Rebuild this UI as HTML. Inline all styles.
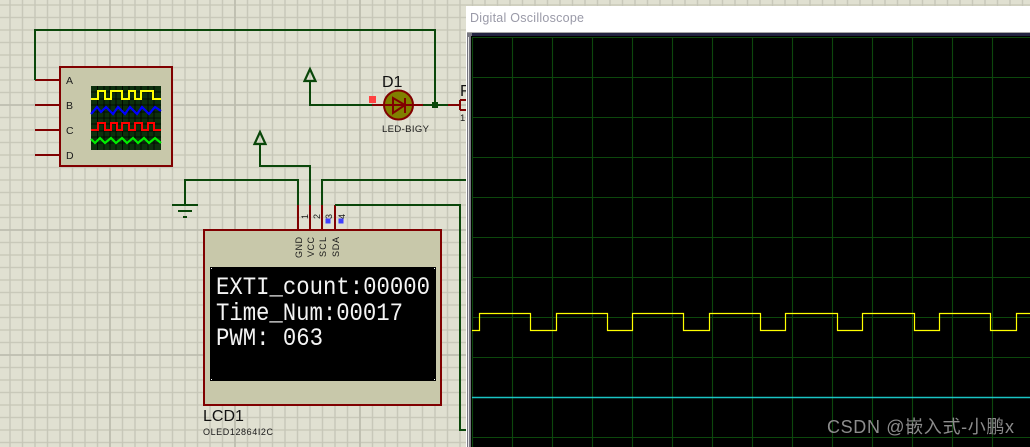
<!DOCTYPE html>
<html><head><meta charset="utf-8">
<style>html,body{margin:0;padding:0;background:#e0e0d1;overflow:hidden}svg{display:block}text{font-family:"Liberation Sans","Noto Sans CJK SC",sans-serif}</style>
</head><body>
<svg width="1030" height="447" viewBox="0 0 1030 447" xmlns="http://www.w3.org/2000/svg">
<defs>
<pattern id="g" x="3.75" y="-1.25" width="12.5" height="12.5" patternUnits="userSpaceOnUse"><path d="M6.250 0V12.5M0 6.250H12.5" stroke="#c6c6b7" stroke-width="1.300" fill="none"/></pattern>
<pattern id="s" x="492" y="17" width="40" height="40" patternUnits="userSpaceOnUse"><path d="M20.500 0V40M0 20.500H40" stroke="#0c470c" stroke-width="1.100" fill="none"/></pattern>
</defs>
<rect width="1030" height="447" fill="#e0e0d1"/>
<rect width="1030" height="447" fill="url(#g)"/>
<path d="M110 0V447M235 0V447M360 0V447M0 105H1030M0 230H1030M0 355H1030" stroke="#bcbcae" stroke-width="1.600" fill="none"/>

<g fill="none" stroke="#800000" stroke-width="2" shape-rendering="crispEdges">
<path d="M35 80H60M35 105H60M35 130H60M35 155H60"/>
<path d="M298 205V230M310 205V230M322 205V230M335 205V230"/>
<path d="M372 105H384M412 105H423M448 105H460"/>
</g>
<g fill="none" stroke="#0a470a" stroke-width="2" shape-rendering="crispEdges">
<path d="M35 80V30H435V105"/>
<path d="M423 105H448"/>
<path d="M372 105H310V81"/>
<path d="M260 143V166H310V205"/>
<path d="M185 204V180H298V205"/>
<path d="M322 205V180H468"/>
<path d="M335 205H460V430H468"/>
<path d="M172 205H198"/>
<path d="M178 211H192"/>
<path d="M183 217H187"/>
</g>
<g fill="none" stroke="#0a470a" stroke-width="2.200">
<path d="M310 69L304.500 81H315.500Z"/>
<path d="M260 132L254.500 144H265.500Z"/>
</g>
<rect x="432" y="102" width="6" height="6" fill="#0a470a"/>

<!-- logic analyser -->
<rect x="60" y="67" width="112" height="99" fill="#c8c8aa" stroke="#800000" stroke-width="2" shape-rendering="crispEdges"/>
<g font-size="10.500" fill="#1a1a1a">
<text x="66" y="84">A</text><text x="66" y="109">B</text><text x="66" y="134">C</text><text x="66" y="159">D</text>
</g>
<rect x="91" y="86" width="70" height="64" fill="#0d300d"/>
<path d="M97.500 86V150M104 86V150M110 86V150M116 86V150M122.500 86V150M129 86V150M135 86V150M141 86V150M148 86V150M154 86V150M91 92H161M91 99H161M91 105H161M91 112H161M91 118H161M91 124H161M91 131H161M91 137H161M91 143H161" stroke="#000" stroke-width="0.8" fill="none"/>
<path d="M91 99H98V91H105V99H111V91H122V99H129V91H135V99H141V91H153V99H161" stroke="#ffff00" stroke-width="2" fill="none"/>
<path d="M91 114L97 107L101 112L106 107L113 114L118 107L125 114L130 107L137 114L142 107L149 114L155 107L161 111" stroke="#0000ff" stroke-width="2.200" fill="none"/>
<path d="M91 130H98V123H105V130H111V123H117V130H122V123H129V130H135V123H142V130H148V123H154V130H161" stroke="#ff0000" stroke-width="2" fill="none"/>
<path d="M91 139L95 143L100 138L105 143L111 138L116 143L122 138L127 143L133 138L138 143L144 138L149 143L155 138L161 143" stroke="#00ee00" stroke-width="2.200" fill="none"/>

<!-- LED -->
<circle cx="398.500" cy="105" r="14.500" fill="#808000" stroke="#800000" stroke-width="2"/>
<path d="M384 105H412M393 98L405 105L393 113ZM405 98V113" fill="none" stroke="#800000" stroke-width="2"/>
<rect x="369" y="96" width="7" height="7" fill="#ff4040"/>
<text x="382" y="87" font-size="16" fill="#111">D1</text>
<text x="382" y="132" font-size="9.500" fill="#1a1a1a" textLength="47">LED-BIGY</text>
<path d="M460 100H468M460 110H468M460 100V110" stroke="#800000" stroke-width="2" fill="none" shape-rendering="crispEdges"/>
<text x="460" y="96" font-size="16" fill="#111">F</text>
<text x="460" y="121" font-size="9.500" fill="#1a1a1a">1</text>

<!-- LCD -->
<rect x="204" y="230" width="237" height="175" fill="#c8c8aa" stroke="#800000" stroke-width="2" shape-rendering="crispEdges"/>
<rect x="210" y="267" width="226" height="114" fill="#000"/>
<path d="M211 268h1v1h-1zM434 268h1v1h-1zM211 379h1v1h-1zM434 379h1v1h-1z" fill="#fff"/>
<g font-size="9" fill="#1a1a1a">
<text transform="translate(302,258) rotate(-90)" textLength="21">GND</text>
<text transform="translate(314,257) rotate(-90)" textLength="20">VCC</text>
<text transform="translate(326,257) rotate(-90)" textLength="20">SCL</text>
<text transform="translate(339,257) rotate(-90)" textLength="20">SDA</text>
<text transform="translate(308,219) rotate(-90)">1</text>
<text transform="translate(320,219) rotate(-90)">2</text>
<text transform="translate(332,219) rotate(-90)">3</text>
<text transform="translate(345,219) rotate(-90)">4</text>
</g>
<rect x="325.500" y="218.500" width="5" height="5" fill="#4040ff"/>
<rect x="338.500" y="218.500" width="5" height="5" fill="#4040ff"/>
<g fill="#f4f4f4" font-size="22.300">
<text transform="translate(216,294) scale(1,1.120)" textLength="214" style="font-family:'Liberation Mono',monospace">EXTI_count:00000</text>
<text transform="translate(216,320) scale(1,1.120)" textLength="187" style="font-family:'Liberation Mono',monospace">Time_Num:00017</text>
<text transform="translate(216,345) scale(1,1.120)" textLength="107" style="font-family:'Liberation Mono',monospace;white-space:pre">PWM: 063</text>
</g>
<text x="203" y="421" font-size="16" fill="#111">LCD1</text>
<text x="203" y="435" font-size="9" fill="#1a1a1a" textLength="70">OLED12864I2C</text>

<!-- oscilloscope window -->
<rect x="466" y="6" width="564" height="441" fill="#ffffff"/>
<text x="470" y="22" font-size="12.500" fill="#9a9aa8" textLength="114">Digital Oscilloscope</text>
<rect x="467" y="32" width="563" height="415" fill="#a8a8a8"/>
<rect x="468" y="33" width="562" height="4" fill="#222240"/>
<rect x="467" y="33" width="5" height="414" fill="#777780"/>
<rect x="468" y="37" width="1" height="410" fill="#e4e4e4"/>
<rect x="471" y="36" width="559" height="411" fill="#000"/>
<rect x="472" y="37" width="558" height="410" fill="url(#s)"/>
<path d="M472.500 37V447M472 37.500H1030" stroke="#0c470c" stroke-width="1" fill="none"/>
<path d="M472 397.500H1030" stroke="#19c4c4" stroke-width="1.500"/>
<path d="M472 330.500H479.500V313.500H530.500V330.500H556.500V313.500H607.500V330.500H632.500V313.500H683.500V330.500H709.500V313.500H760.500V330.500H785.500V313.500H837.500V330.500H862.500V313.500H914.500V330.500H939.500V313.500H990.500V330.500H1016.500V313.500H1030" stroke="#ffff00" stroke-width="1.200" fill="none"/>
<text x="827" y="433" font-size="18" fill="#8c8c8c" textLength="187">CSDN @嵌入式-小鹏x</text>
</svg>
</body></html>
